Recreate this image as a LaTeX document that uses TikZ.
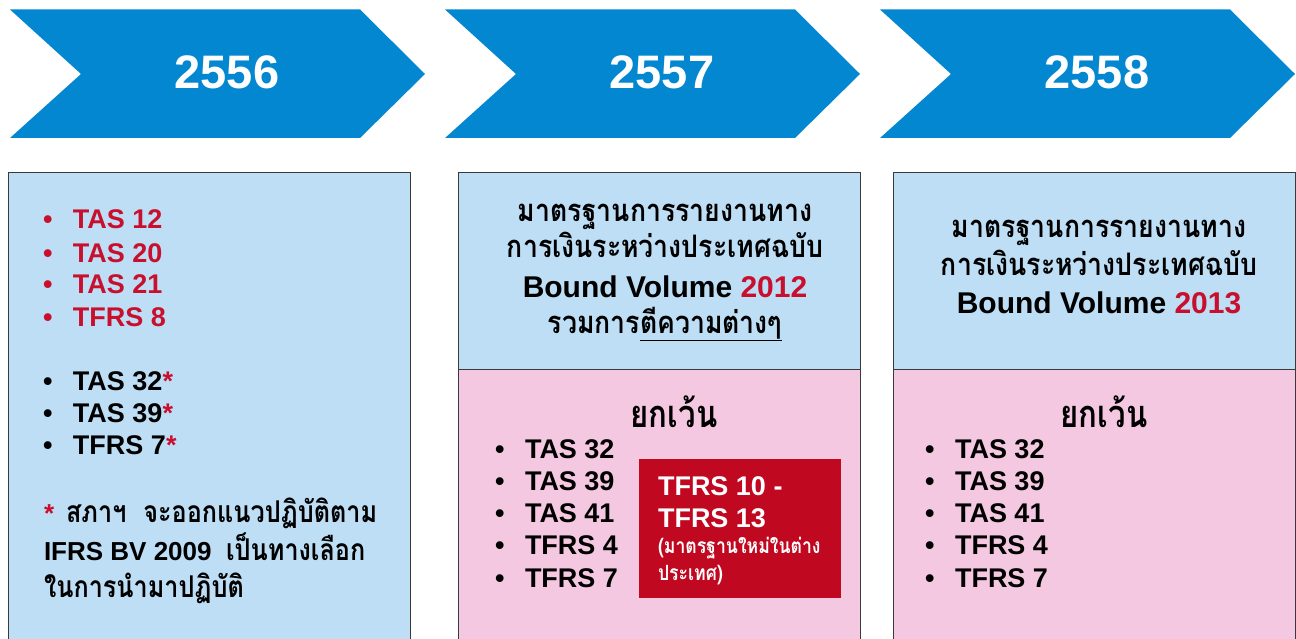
\documentclass[tikz,border=0pt]{standalone}
\usepackage{fontspec}
\setmainfont{Liberation Sans}
\newfontfamily\thaifont[Script=Thai]{Loma}
\usetikzlibrary{positioning}

\definecolor{chevblue}{HTML}{0287D0}
\definecolor{panelblue}{HTML}{BDDEF5}
\definecolor{panelpink}{HTML}{F5C8E1}
\definecolor{newred}{HTML}{C00820}
\definecolor{hired}{HTML}{C8102E}
\definecolor{rimgray}{HTML}{3A3A3A}

\newcommand{\bul}{\makebox[30pt][l]{\textbullet}}
\newcommand{\redtxt}[1]{\textcolor{hired}{#1}}
% Thai set larger, then narrowed
\newcommand{\thaitxt}[3]{{\thaifont\fontsize{#1}{#1}\selectfont\scalebox{#2}[1]{#3}}}

\begin{document}
\begin{tikzpicture}[x=1pt,y=-1pt,
  every node/.style={inner sep=0pt,outer sep=0pt},
  chev/.style={fill=chevblue},
  yearlbl/.style={text=white,font=\fontsize{47}{47}\selectfont\bfseries},
  panel/.style={draw=rimgray,line width=1pt},
  item/.style={anchor=base west,font=\fontsize{27}{32}\selectfont\bfseries},
  note/.style={anchor=base west,font=\fontsize{26}{30}\selectfont\bfseries},
  thai/.style={anchor=base,font=\bfseries},
  bvlbl/.style={anchor=base,font=\fontsize{30}{34}\selectfont\bfseries},
  newbox/.style={fill=newred,minimum width=202pt,minimum height=139pt}]
\useasboundingbox (0,0) rectangle (1296,639);

% year arrows
\foreach \dx/\yr [count=\i] in {0/2556,435/2557,870/2558} {
  \fill[chev] (10+\dx,9.5) -- (360+\dx,9.5) -- (425+\dx,74) -- (360+\dx,138)
    -- (10+\dx,138) -- (81+\dx,74) -- cycle;
  \node[yearlbl] (year\i) at (227+\dx,72) {\yr};
}

% panels
\fill[panelblue] (8,173) rectangle (410,639);
\draw[panel] (8,639) -- (8,173) -- (410,173) -- (410,639);
\foreach \lx/\rx in {458/860,893/1295} {
  \fill[panelblue] (\lx,173) rectangle (\rx,369);
  \fill[panelpink] (\lx,369) rectangle (\rx,639);
  \draw[panel] (\lx,639) -- (\lx,173) -- (\rx,173) -- (\rx,639);
  \draw[panel] (\lx,369) -- (\rx,369);
}

% 2556
\foreach \t/\yb [count=\i] in {TAS 12/229,TAS 20/262,TAS 21/294,TFRS 8/326}
  \node[item,text=hired] (newa\i) at (43,\yb) {\bul\t};
\foreach \t/\yb [count=\i] in {TAS 32/390,TAS 39/422,TFRS 7/454}
  \node[item] (opta\i) at (43,\yb) {\bul\t\redtxt{*}};
\node[note] (fn1) at (44,522) {\redtxt{*}\hspace{12pt}\thaitxt{30}{0.84}{สภาฯ\ \ จะออกแนวปฏิบัติตาม}};
\node[note] (fn2) at (44,560) {IFRS BV 2009\ \ \thaitxt{30}{0.84}{เป็นทางเลือก}};
\node[note] (fn3) at (44,597) {\thaitxt{30}{0.84}{ในการนำมาปฏิบัติ}};

% 2557
\node[thai] (bv12a) at (665,222) {\thaitxt{31}{0.86}{มาตรฐานการรายงานทาง}};
\node[thai] (bv12b) at (665,258) {\thaitxt{31}{0.86}{การเงินระหว่างประเทศฉบับ}};
\node[bvlbl] (bv12c) at (665,297) {Bound Volume \redtxt{2012}};
\node[thai] (bv12d) at (665,333) {\thaitxt{31}{0.86}{รวมการ\underline{ตีความต่างๆ}}};
\node[thai] (exc12) at (674,427) {\thaitxt{38}{0.82}{ยกเว้น}};
\node[newbox] (newstd) at (740,528.5) {};
\node[item,text=white] (newb1) at (658,495) {TFRS 10 -};
\node[item,text=white] (newb2) at (658,527) {TFRS 13};
\node[thai,anchor=base west,text=white] (newb3) at (658,553) {\thaitxt{21}{0.84}{(มาตรฐานใหม่ในต่าง}};
\node[thai,anchor=base west,text=white] (newb4) at (658,580) {\thaitxt{21}{0.84}{ประเทศ)}};

% 2558
\node[thai] (bv13a) at (1099,237) {\thaitxt{31}{0.86}{มาตรฐานการรายงานทาง}};
\node[thai] (bv13b) at (1099,275) {\thaitxt{31}{0.86}{การเงินระหว่างประเทศฉบับ}};
\node[bvlbl] (bv13c) at (1099,313) {Bound Volume \redtxt{2013}};
\node[thai] (exc13) at (1104,427) {\thaitxt{38}{0.82}{ยกเว้น}};

% exceptions
\foreach \bx/\nm in {495/b,925/c}
  \foreach \t/\yb [count=\i] in {TAS 32/458,TAS 39/490,TAS 41/522,TFRS 4/554,TFRS 7/587}
    \node[item] (ex\nm\i) at (\bx,\yb) {\bul\t};
\end{tikzpicture}
\end{document}
